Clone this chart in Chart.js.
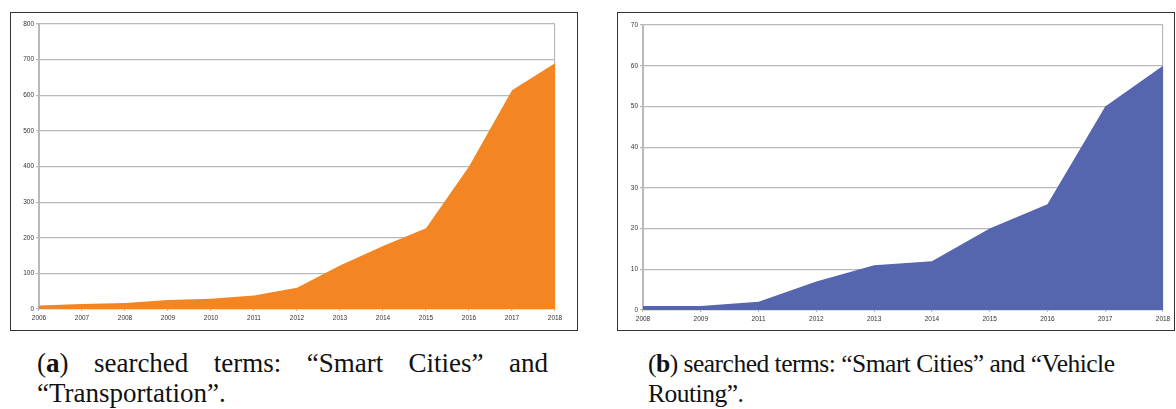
<!DOCTYPE html>
<html>
<head>
<meta charset="utf-8">
<script src="https://cdn.jsdelivr.net/npm/chart.js@4/dist/chart.umd.min.js"></script>
<style>
  body { margin:0; width:1176px; height:409px; background:#fff; position:relative; overflow:hidden; }
  .frame { position:absolute; top:12px; height:319px; border:1px solid #333; box-sizing:border-box; background:#fff; }
  .frame canvas { display:block; }
  .caption { position:absolute; top:348px; font-family:"Liberation Serif", serif; font-size:27px; line-height:30px; color:#111; text-align:justify; }
  .caption.b { font-size:25.5px; letter-spacing:-0.5px; white-space:nowrap; text-align:left; top:349px; }
</style>
</head>
<body>
  <div class="frame" style="left:10px;width:568px;"><canvas id="chart-a" width="566" height="317"></canvas></div>
  <div class="frame" style="left:617px;width:558px;"><canvas id="chart-b" width="556" height="317"></canvas></div>

  <div class="caption" style="left:37px;width:511px;">(<b>a</b>) searched terms: “Smart Cities” and “Transportation”.</div>
  <div class="caption b" style="left:648px;">(<b>b</b>) searched terms: “Smart Cities” and “Vehicle<br>Routing”.</div>

<script>
  // (a) Smart Cities + Transportation
  const yearsA  = ['2006','2007','2008','2009','2010','2011','2012','2013','2014','2015','2016','2017','2018'];
  const valuesA = [10, 14, 17, 25, 29, 38, 60, 122, 177, 227, 400, 614, 690];

  // (b) Smart Cities + Vehicle Routing (2010 not in the source)
  const yearsB  = ['2008','2009','2011','2012','2013','2014','2015','2016','2017','2018'];
  const valuesB = [1, 1, 2, 7, 11, 12, 20, 26, 50, 60];

  const GRID = '#b9b9b9';
  const TICK_FONT = { family: 'Liberation Sans', size: 6.5 };

  function makeArea(id, labels, data, color, yMax, yStep, yWidth, xHeight, pad) {
    const last = labels.length - 1;
    return new Chart(document.getElementById(id), {
      type: 'line',
      data: {
        labels,
        datasets: [{
          data,
          fill: 'origin',
          backgroundColor: color,
          borderWidth: 0,
          pointRadius: 0,
          tension: 0
        }]
      },
      options: {
        responsive: false,
        animation: false,
        layout: { padding: pad },
        plugins: { legend: { display: false }, tooltip: { enabled: false } },
        scales: {
          x: {
            offset: false,
            grid: {
              color: c => c.index === last ? GRID : 'rgba(0,0,0,0)',
              tickColor: GRID,
              tickLength: 2,
              lineWidth: 1.2
            },
            border: { color: GRID, width: 1.2 },
            ticks: { font: TICK_FONT, color: '#333', padding: 3, maxRotation: 0, autoSkip: false },
            afterFit: s => { s.height = xHeight; }
          },
          y: {
            min: 0,
            max: yMax,
            grid: { color: GRID, lineWidth: 1.2, tickLength: 3, tickColor: GRID },
            border: { color: GRID, width: 2 },
            ticks: { stepSize: yStep, font: TICK_FONT, color: '#333', padding: 2 },
            afterFit: s => { s.width = yWidth; }
          }
        }
      }
    });
  }

  makeArea('chart-a', yearsA, valuesA, '#f38522', 800, 100, 28, 21, { top: 11, right: 22, left: 0, bottom: 0 });
  makeArea('chart-b', yearsB, valuesB, '#5565ae', 70, 10, 25, 20, { top: 12, right: 11, left: 0, bottom: 0 });
</script>
</body>
</html>
